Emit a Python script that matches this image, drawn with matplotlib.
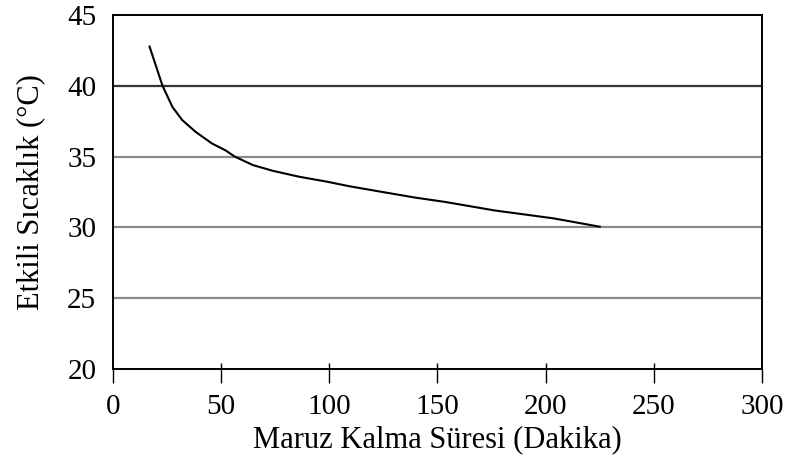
import matplotlib
matplotlib.use('Agg')
import matplotlib.pyplot as plt

# veri
sure = [16.9, 22.9, 27.5, 32, 38.1, 45.7, 51.8, 56.3, 64.7, 73.8, 86, 98.9, 109.5, 124.6, 139.9, 153.5, 176.3, 203.6, 225]
sicaklik = [42.77, 40.0, 38.5, 37.58, 36.76, 35.93, 35.46, 35.0, 34.4, 34.0, 33.58, 33.23, 32.9, 32.5, 32.1, 31.8, 31.2, 30.64, 30.05]
x_ticks = [0, 50, 100, 150, 200, 250, 300]
y_ticks = [20, 25, 30, 35, 40, 45]
cizgiler = [25, 30, 35, 40]
cizgi_renk = ['#8a8a8a', '#8a8a8a', '#8a8a8a', '#333333']

plt.rcParams['font.family'] = ['Liberation Serif', 'DejaVu Serif']

fig = plt.figure(figsize=(7.88, 4.62), dpi=100)
ax = fig.add_axes([0.1434, 0.2013, 0.967 - 0.1434, 0.9675 - 0.2013])

for yv, c in zip(cizgiler, cizgi_renk):
    ax.axhline(yv, color=c, lw=1.6, zorder=1)

ax.plot(sure, sicaklik, color='black', lw=1.5, zorder=3, solid_joinstyle='round')

ax.set_xlim(0, 300)
ax.set_ylim(20, 45)
ax.set_xticks(x_ticks)
ax.set_yticks(y_ticks)

for s in ax.spines.values():
    s.set_color('black')
    s.set_linewidth(1.4)

# x ekseni çentikleri: dışa uzun, içe kısa
ax.xaxis.remove_overlapping_locs = False
ax.set_xticks(x_ticks[1:-1], minor=True)
ax.tick_params(axis='x', which='major', direction='out', length=10, width=1, labelsize=21, pad=8)
ax.tick_params(axis='x', which='minor', direction='in', length=4.5, width=1)
ax.tick_params(axis='y', which='both', length=0, labelsize=21, pad=12)

ax.set_xlabel('Maruz Kalma Süresi (Dakika)', fontsize=22, labelpad=4)
ax.set_ylabel('Etkili Sıcaklık (°C)', fontsize=22, labelpad=16)

fig.savefig('out.png', dpi=100)
